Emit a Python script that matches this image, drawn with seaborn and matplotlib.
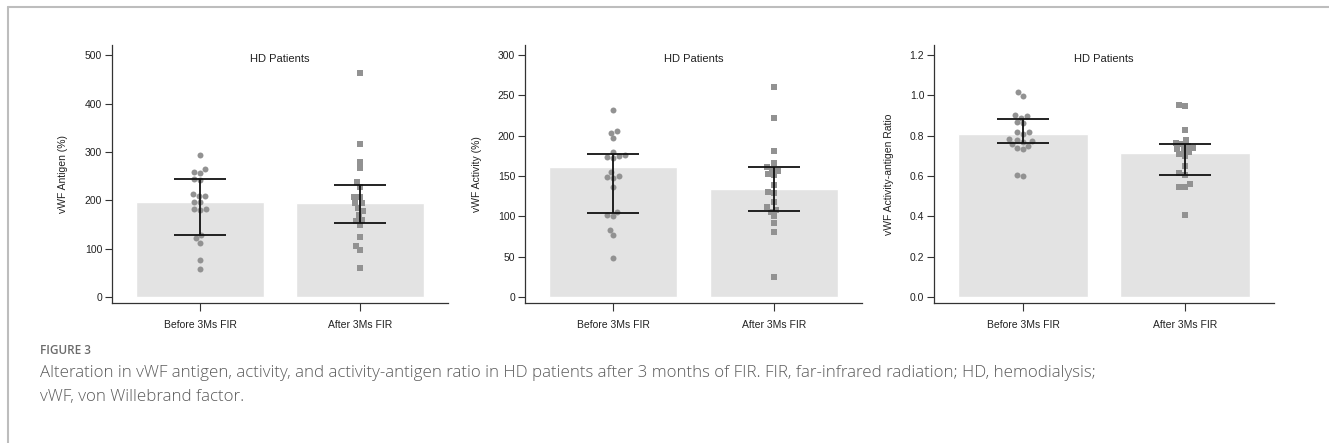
import numpy as np
import pandas as pd
import seaborn as sns
import matplotlib.pyplot as plt
from matplotlib.lines import Line2D

groups = ["Before 3Ms FIR", "After 3Ms FIR"]

# vWF antigen (%)
antigen_before = [293, 264, 258, 257, 245, 242, 214, 209, 208, 197, 196, 183, 182, 180,
                  128, 121, 112, 76, 57]
antigen_after = [463, 317, 280, 266, 238, 228, 207, 206, 195, 194, 185, 178, 170, 160,
                 158, 149, 125, 105, 97, 60]
antigen_bar = [195.6, 193.6]
antigen_lo = [128.7, 153.5]
antigen_hi = [243.8, 231.0]

# vWF activity (%)
activity_before = [232, 206, 204, 197, 180, 176, 175, 174, 172, 155, 150, 149, 148, 137,
                   106, 102, 100, 83, 77, 48]
activity_after = [260, 222, 181, 166, 161, 158, 156, 153, 151, 139, 130, 129, 118, 112,
                  108, 106, 100, 92, 81, 25]
activity_bar = [161.0, 133.5]
activity_lo = [104.5, 107.0]
activity_hi = [178.0, 160.7]

# vWF activity-antigen ratio
ratio_before = [1.015, 0.998, 0.902, 0.897, 0.89, 0.866, 0.862, 0.82, 0.818, 0.81, 0.785,
                0.78, 0.775, 0.77, 0.76, 0.75, 0.74, 0.735, 0.605, 0.602]
ratio_after = [0.955, 0.948, 0.828, 0.78, 0.765, 0.76, 0.75, 0.74, 0.735, 0.73, 0.72,
               0.71, 0.70, 0.65, 0.613, 0.605, 0.56, 0.547, 0.545, 0.405]
ratio_bar = [0.808, 0.717]
ratio_lo = [0.762, 0.607]
ratio_hi = [0.883, 0.760]

panels = [
    ("vWF Antigen (%)", antigen_before, antigen_after, antigen_bar, antigen_lo, antigen_hi,
     (-12.4, 520.7), [0, 100, 200, 300, 400, 500], "{:.0f}", 0.0843, 0.2528, -0.131),
    ("vWF Activity (%)", activity_before, activity_after, activity_bar, activity_lo, activity_hi,
     (-7.4, 312.4), [0, 50, 100, 150, 200, 250, 300], "{:.0f}", 0.395, 0.2536, -0.128),
    ("vWF Activity-antigen Ratio", ratio_before, ratio_after, ratio_bar, ratio_lo, ratio_hi,
     (-0.0298, 1.2496), [0, 0.2, 0.4, 0.6, 0.8, 1.0, 1.2], "{:.1f}", 0.7028, 0.2558, -0.118),
]

sns.set_style("ticks")
plt.rcParams["font.family"] = ["Liberation Sans", "DejaVu Sans"]

fig = plt.figure(figsize=(13.29, 4.43), dpi=100)

bar_color = "#e3e3e3"
dot_color = "#929292"
axis_color = "#333333"

for (ylabel, before, after, bars, lo, hi, ylim, yticks, fmt, left, width, lab_x) in panels:
    ax = fig.add_axes([left, 0.316, width, 0.582])
    sns.barplot(x=groups, y=bars, order=groups, color=bar_color, width=0.8,
                errorbar=None, ax=ax, zorder=1)
    df_b = pd.DataFrame({"group": groups[0], "value": before})
    df_a = pd.DataFrame({"group": groups[1], "value": after})
    sns.swarmplot(data=df_b, x="group", y="value", order=groups, color=dot_color,
                  marker="o", size=4.3, linewidth=0, ax=ax, zorder=2)
    sns.swarmplot(data=df_a, x="group", y="value", order=groups, color=dot_color,
                  marker="s", size=4.1, linewidth=0, ax=ax, zorder=2)
    lo = np.array(lo)
    hi = np.array(hi)
    ax.errorbar([0, 1], (lo + hi) / 2, yerr=(hi - lo) / 2, fmt="none", ecolor="#111111",
                elinewidth=1.3, capsize=19, capthick=1.3, zorder=3)

    ax.set_xlim(-0.55, 1.55)
    ax.set_ylim(*ylim)
    ax.set_yticks(yticks)
    ax.set_yticklabels([fmt.format(t) for t in yticks])
    ax.set_xlabel("")
    ax.set_ylabel(ylabel, fontsize=7.5, color="#222222")
    ax.yaxis.set_label_coords(lab_x, 0.5)
    ax.text(0.5, 0.946, "HD Patients", transform=ax.transAxes, ha="center", va="center",
            fontsize=8, color="#222222")
    for side in ["top", "right"]:
        ax.spines[side].set_visible(False)
    for side in ["left", "bottom"]:
        ax.spines[side].set_color(axis_color)
        ax.spines[side].set_linewidth(0.9)
    ax.tick_params(axis="y", length=5, width=0.8, color=axis_color, labelsize=7.5,
                   labelcolor="#222222", pad=2)
    ax.tick_params(axis="x", length=6, width=0.8, color=axis_color, labelsize=7.5,
                   labelcolor="#222222", pad=6)

# frame lines of the figure box
fig.add_artist(Line2D([8 / 1329, 8 / 1329], [0, 1 - 7 / 443], color="#bdbdbd", lw=1.5))
fig.add_artist(Line2D([8 / 1329, 1], [1 - 7 / 443, 1 - 7 / 443], color="#bdbdbd", lw=1.5))

cap_font = ["Open Sans", "DejaVu Sans"]
fig.text(40 / 1329, 1 - 351 / 443, "FIGURE 3", fontsize=8.5, color="#6b6b6b",
         family=cap_font, va="center", fontweight="semibold")
fig.text(40 / 1329, 1 - 373 / 443,
         "Alteration in vWF antigen, activity, and activity-antigen ratio in HD patients "
         "after 3 months of FIR. FIR, far-infrared radiation; HD, hemodialysis;",
         fontsize=12.2, color="#5a5a5a", family=cap_font, va="center", fontweight="light")
fig.text(40 / 1329, 1 - 397 / 443, "vWF, von Willebrand factor.",
         fontsize=12.2, color="#5a5a5a", family=cap_font, va="center", fontweight="light")

fig.savefig("out.png", dpi=100)
